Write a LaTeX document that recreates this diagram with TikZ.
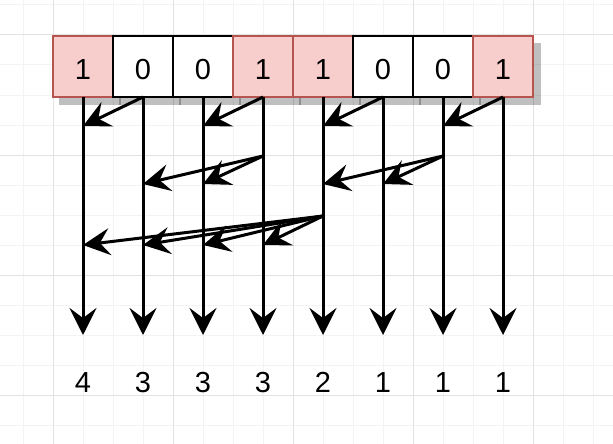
\documentclass[tikz,border=0pt]{standalone}
\usepackage{fontspec}
\setmainfont{Liberation Sans}
\usetikzlibrary{arrows.meta}
\definecolor{pinkfill}{HTML}{F8CECC}
\definecolor{pinkline}{HTML}{B85450}
\definecolor{gridminor}{HTML}{F3F3F3}
\definecolor{gridmajor}{HTML}{E2E2E2}
\begin{document}
\begin{tikzpicture}[x=1pt,y=-1pt,
  cell/.style={draw=black, fill=white, line width=2pt, minimum width=60pt, minimum height=61pt,
    inner sep=0pt, outer sep=0pt, anchor=north west, font=\fontsize{29}{30}\selectfont,
    text height=27pt, text depth=0pt},
  onecell/.style={cell, draw=pinkline, fill=pinkfill},
  shadowbox/.style={fill=black, opacity=0.25},
  lbl/.style={anchor=base, inner sep=0pt, font=\fontsize{29}{30}\selectfont},
  arr/.style={line width=3pt, -{Stealth[length=27pt, width=27pt, inset=10pt]}},
  gmin/.style={gridminor, line width=1pt},
  gmaj/.style={gridmajor, line width=1pt}
]
\useasboundingbox (0,0) rectangle (613,444);
\fill[white] (0,0) rectangle (613,444);
% grid
\foreach \x in {23,53,...,613} \draw[gmin] (\x,0) -- (\x,444);
\foreach \y in {5,35,...,444} \draw[gmin] (0,\y) -- (613,\y);
\foreach \x in {53,173,293,413,533} \draw[gmaj] (\x,0) -- (\x,444);
\foreach \y in {35,155,275,395} \draw[gmaj] (0,\y) -- (613,\y);
% shadows
\foreach \i in {0,...,7} \fill[shadowbox] ({53+60*\i+7-1},43) rectangle ({53+60*\i+60+7+1},105);
% boxes
\node[onecell] (b0) at (53,36) {1};
\node[cell]    (b1) at (113,36) {0};
\node[cell]    (b2) at (173,36) {0};
\node[onecell] (b3) at (233,36) {1};
\node[onecell] (b4) at (293,36) {1};
\node[cell]    (b5) at (353,36) {0};
\node[cell]    (b6) at (413,36) {0};
\node[onecell] (b7) at (473,36) {1};
% end coordinates of the vertical arrows and labels
\foreach \i/\v in {0/4,1/3,2/3,3/3,4/2,5/1,6/1,7/1} {
  \coordinate (t\i) at ({83+60*\i},335);
  \node[lbl] (l\i) at ({83+60*\i},392) {\v};
}
% level coordinates
\coordinate (q0) at (83,126);
\coordinate (q2) at (203,126);
\coordinate (q4) at (323,126);
\coordinate (q6) at (443,126);
\coordinate (s3) at (263,156);
\coordinate (s7) at (443,156);
\coordinate (r1) at (143,184);
\coordinate (r2) at (203,184);
\coordinate (r5) at (323,184);
\coordinate (r6) at (383,184);
\coordinate (u4) at (323,216);
\coordinate (v0) at (83,245);
\coordinate (v1) at (143,245);
\coordinate (v2) at (203,245);
\coordinate (v3) at (263,245);
% vertical arrows
\foreach \i in {0,...,7} \draw[arr] (b\i.south) -- (t\i);
% level 1
\draw[arr] (b1.south) -- (q0);
\draw[arr] (b3.south) -- (q2);
\draw[arr] (b5.south) -- (q4);
\draw[arr] (b7.south) -- (q6);
% level 2
\draw[arr] (s3) -- (r1);
\draw[arr] (s3) -- (r2);
\draw[arr] (s7) -- (r5);
\draw[arr] (s7) -- (r6);
% level 3
\draw[arr] (u4) -- (v0);
\draw[arr] (u4) -- (v1);
\draw[arr] (u4) -- (v2);
\draw[arr] (u4) -- (v3);
\end{tikzpicture}
\end{document}
